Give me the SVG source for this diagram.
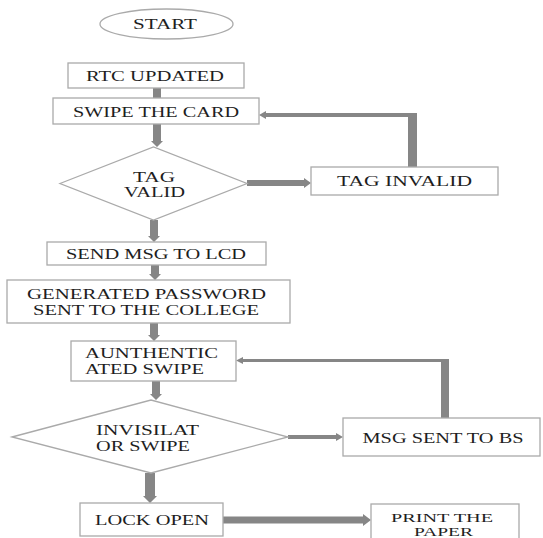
<svg xmlns="http://www.w3.org/2000/svg" width="543" height="538" viewBox="0 0 543 538">
<style>
.box{fill:#fff;stroke:#aaaaaa;stroke-width:1.3}
.t{font-family:"Liberation Serif","Times New Roman",serif;font-size:15px;fill:#1e1e1e;text-anchor:middle}
.s{font-size:13px}
.l{text-anchor:start}
.c{fill:#868686;stroke:none}
</style>
<rect width="543" height="538" fill="#fff"/>
<g id="connectors">
<rect class="c" x="153" y="88" width="8" height="10"/>
<path class="c" d="M153 124 H161 V141 H163 L157 147 L151 141 H153 Z"/>
<path class="c" d="M150 220 H158 V236 H160 L154 242 L148 236 H150 Z"/>
<path class="c" d="M151 265 H159 V274 H161 L155 280 L149 274 H151 Z"/>
<path class="c" d="M150 323 H158 V335 H160 L154 341 L148 335 H150 Z"/>
<path class="c" d="M152 381 H160 V394 H162 L156 400 L150 394 H152 Z"/>
<path class="c" d="M145 473 H155 V496 H157 L150 503 L143 496 H145 Z"/>
<path class="c" d="M247 180 H304 V178 L311 183 L304 188 V186 H247 Z"/>
<path class="c" d="M408 167 V117 H266 V119 L259 115 L266 111 V113 H417 V167 Z"/>
<path class="c" d="M288 435 H336 V433 L343 437 L336 441 V439 H288 Z"/>
<path class="c" d="M441 418 V362 H243 V364 L236 360.5 L243 357 V359 H449 V418 Z"/>
<path class="c" d="M223 516.5 H363 V514 L371 520 L363 526 V523.5 H223 Z"/>
</g>
<g id="start">
<ellipse class="box" cx="166.5" cy="24" rx="66.5" ry="15"/>
<text class="t" x="165" y="29" textLength="64" lengthAdjust="spacingAndGlyphs">START</text>
</g>
<g id="rtc">
<rect class="box" x="68" y="63" width="176" height="25"/>
<text class="t" x="155" y="80.5" textLength="138" lengthAdjust="spacingAndGlyphs">RTC UPDATED</text>
</g>
<g id="swipe">
<rect class="box" x="53" y="98" width="206" height="26"/>
<text class="t" x="156" y="117" textLength="166" lengthAdjust="spacingAndGlyphs">SWIPE THE CARD</text>
</g>
<g id="tagvalid">
<polygon class="box" points="60,183.5 153.5,147 247,183.5 153.5,220"/>
<text class="t" x="154" y="182" textLength="42" lengthAdjust="spacingAndGlyphs">TAG</text>
<text class="t" x="154.5" y="197" textLength="61" lengthAdjust="spacingAndGlyphs">VALID</text>
</g>
<g id="taginvalid">
<rect class="box" x="311" y="167" width="187" height="28"/>
<text class="t" x="404.5" y="185.5" textLength="135" lengthAdjust="spacingAndGlyphs">TAG INVALID</text>
</g>
<g id="sendmsg">
<rect class="box" x="47" y="242" width="219" height="23"/>
<text class="t" x="156" y="258.5" textLength="180" lengthAdjust="spacingAndGlyphs">SEND MSG TO LCD</text>
</g>
<g id="generated">
<rect class="box" x="7" y="280" width="283" height="43"/>
<text class="t" x="146.5" y="299" textLength="239" lengthAdjust="spacingAndGlyphs">GENERATED PASSWORD</text>
<text class="t" x="146" y="314.5" textLength="226" lengthAdjust="spacingAndGlyphs">SENT TO THE COLLEGE</text>
</g>
<g id="authenticated">
<rect class="box" x="71" y="341" width="165" height="40"/>
<text class="t l" x="85" y="358" textLength="133" lengthAdjust="spacingAndGlyphs">AUNTHENTIC</text>
<text class="t l" x="85" y="373.5" textLength="119" lengthAdjust="spacingAndGlyphs">ATED SWIPE</text>
</g>
<g id="invigilator">
<polygon class="box" points="12,437 151,400 288,437 151,473"/>
<text class="t l" x="96" y="435" textLength="103" lengthAdjust="spacingAndGlyphs">INVISILAT</text>
<text class="t l" x="96" y="450.5" textLength="94" lengthAdjust="spacingAndGlyphs">OR SWIPE</text>
</g>
<g id="msgsent">
<rect class="box" x="343" y="418" width="197" height="38"/>
<text class="t" x="443" y="442.5" textLength="161" lengthAdjust="spacingAndGlyphs">MSG SENT TO BS</text>
</g>
<g id="lockopen">
<rect class="box" x="80" y="503" width="143" height="33"/>
<text class="t" x="152" y="524.5" textLength="114" lengthAdjust="spacingAndGlyphs">LOCK OPEN</text>
</g>
<g id="print">
<rect class="box" x="371" y="504" width="148" height="40"/>
<text class="t s" x="442" y="521.5" textLength="102" lengthAdjust="spacingAndGlyphs">PRINT THE</text>
<text class="t s" x="443.5" y="536" textLength="59" lengthAdjust="spacingAndGlyphs">PAPER</text>
</g>
</svg>
